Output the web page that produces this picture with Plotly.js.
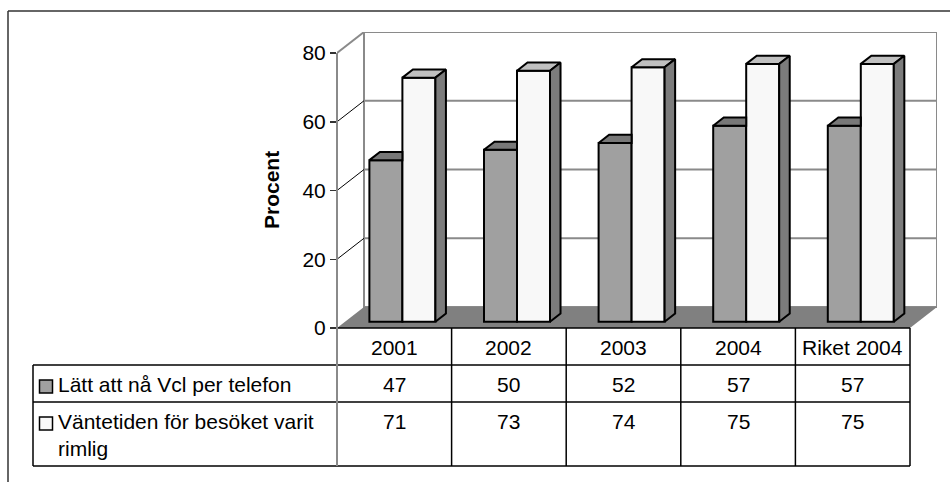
<!DOCTYPE html>
<html>
<head>
<meta charset="utf-8">
<script src="https://cdn.plot.ly/plotly-3.0.1.min.js"></script>
<style>
  html, body { margin: 0; padding: 0; background: #ffffff; }
  #chart { width: 950px; height: 482px; }
</style>
</head>
<body>
<div id="chart"></div>
<script>
// ---- data ----
const categories = ['2001', '2002', '2003', '2004', 'Riket 2004'];
const seriesNames = ['Lätt att nå Vcl per telefon', 'Väntetiden för besöket varit<br>rimlig'];
const phoneReach = [47, 50, 52, 57, 57];
const waitReasonable = [71, 73, 74, 75, 75];
const yTicks = [0, 20, 40, 60, 80];
const yAxisTitle = 'Procent';

// ---- page geometry (pixels) ----
const W = 950, H = 482;
const px = v => v / W;
const py = v => 1 - v / H;

const FRONT_LEFT = 337, FRONT_RIGHT = 910;        // front edge of the floor
const BACK_RIGHT = 937;                            // right edge of the back wall
const Y_ZERO = 328, Y_TOP = 32;                    // front zero line, top of back wall
const CAT_PX = (FRONT_RIGHT - FRONT_LEFT) / categories.length;
const UNIT_PX = (Y_ZERO - 53) / 80;                // px per percent on the front axis

const X_MIN = -0.5;
const X_MAX = X_MIN + (BACK_RIGHT - FRONT_LEFT) / CAT_PX;
const Y_MAX = (Y_ZERO - Y_TOP) / UNIT_PX;
const BACK_DX = X_MAX - (categories.length - 0.5);  // depth shift of the back wall (x units)
const BACK_DY = Y_MAX - 80;                          // depth shift of the back wall (y units)

// bars sit 30% into the depth and are 39% deep
const BAR_DX = 0.30 * BACK_DX, BAR_DY = 0.30 * BACK_DY;
const DEP_DX = 0.39 * BACK_DX, DEP_DY = 0.39 * BACK_DY;
const BAR_W = 33 / CAT_PX;

const FONT = 'Liberation Sans, Arial, sans-serif';
const styles = [
  { front: '#a0a0a0', top: '#787878', side: '#7c7c7c' },
  { front: '#f8f8f8', top: '#c0c0c0', side: '#7c7c7c' }
];
const seriesValues = [phoneReach, waitReasonable];

// ---- traces: front faces as bars, top/side faces as filled polygons ----
const traces = [];
seriesValues.forEach((vals, s) => {
  traces.push({
    type: 'bar',
    x: categories.map((c, i) => i + BAR_DX),
    y: vals,
    base: BAR_DY,
    width: BAR_W,
    offset: s === 0 ? -BAR_W : 0,
    marker: { color: styles[s].front, line: { color: '#000000', width: 2 } },
    hoverinfo: 'skip',
    name: seriesNames[s]
  });
});

function facePolys(s) {
  const tx = [], ty = [], sx = [], sy = [];
  seriesValues[s].forEach((v, i) => {
    const x0 = i + BAR_DX + (s === 0 ? -BAR_W : 0);
    const x1 = x0 + BAR_W;
    const b = BAR_DY, t = BAR_DY + v;
    const nextTaller = s === 0 && seriesValues[1][i] > v;
    if (nextTaller) {
      tx.push(x0, x1, x1, x0 + DEP_DX, x0, null);
      ty.push(t, t, t + DEP_DY, t + DEP_DY, t, null);
    } else {
      tx.push(x0, x1, x1 + DEP_DX, x0 + DEP_DX, x0, null);
      ty.push(t, t, t + DEP_DY, t + DEP_DY, t, null);
      sx.push(x1, x1, x1 + DEP_DX, x1 + DEP_DX, x1, null);
      sy.push(b, t, t + DEP_DY, b + DEP_DY, b, null);
    }
  });
  return { tx, ty, sx, sy };
}

[0, 1].forEach(s => {
  const f = facePolys(s);
  traces.push({
    type: 'scatter', mode: 'lines', x: f.tx, y: f.ty, fill: 'toself',
    fillcolor: styles[s].top, line: { color: '#000000', width: 2 },
    hoverinfo: 'skip', showlegend: false
  });
  if (f.sx.length) {
    traces.push({
      type: 'scatter', mode: 'lines', x: f.sx, y: f.sy, fill: 'toself',
      fillcolor: styles[s].side, line: { color: '#000000', width: 2 },
      hoverinfo: 'skip', showlegend: false
    });
  }
});

// ---- walls, floor, gridlines ----
const shapes = [];
const gridGray = '#8a8a8a';
shapes.push({
  type: 'rect', xref: 'x', yref: 'y', layer: 'below',
  x0: X_MIN + BACK_DX, x1: X_MAX, y0: BACK_DY, y1: Y_MAX,
  fillcolor: '#ffffff', line: { color: gridGray, width: 2 }
});
const fl = [[X_MIN, 0], [categories.length - 0.5, 0], [X_MAX, BACK_DY], [X_MIN + BACK_DX, BACK_DY]];
shapes.push({
  type: 'path', xref: 'x', yref: 'y', layer: 'below',
  path: 'M' + fl.map(p => p[0] + ',' + p[1]).join(' L') + ' Z',
  fillcolor: '#808080', line: { width: 0 }
});
yTicks.forEach(v => {
  if (v > 0 && v < 80) {
    shapes.push({
      type: 'line', xref: 'x', yref: 'y', layer: 'below',
      x0: X_MIN + BACK_DX, x1: X_MAX, y0: v + BACK_DY, y1: v + BACK_DY,
      line: { color: gridGray, width: 2 }
    });
  }
  if (v > 0) {
    shapes.push({
      type: 'line', xref: 'x', yref: 'y', layer: 'below',
      x0: X_MIN, x1: X_MIN + BACK_DX, y0: v, y1: v + BACK_DY,
      line: v === 80 ? { color: gridGray, width: 2 } : { color: '#000000', width: 1 }
    });
  }
});

// ---- data table under the plot ----
const lineBlack = { color: '#000000', width: 1.5 };
const ROW_TOP = Y_ZERO, ROW1 = 365, ROW2 = 402, ROW_BOT = 466, LABEL_LEFT = 33;
const hline = (x0, x1, y) => ({ type: 'line', xref: 'paper', yref: 'paper', x0: px(x0), x1: px(x1), y0: py(y), y1: py(y), line: lineBlack });
const vline = (x, y0, y1, ln) => ({ type: 'line', xref: 'paper', yref: 'paper', x0: px(x), x1: px(x), y0: py(y0), y1: py(y1), line: ln || lineBlack });

shapes.push(hline(FRONT_LEFT, FRONT_RIGHT, ROW_TOP));
shapes.push(hline(LABEL_LEFT, FRONT_RIGHT, ROW1));
shapes.push(hline(LABEL_LEFT, FRONT_RIGHT, ROW2));
shapes.push(hline(LABEL_LEFT, FRONT_RIGHT, ROW_BOT));
shapes.push(vline(LABEL_LEFT, ROW1, ROW_BOT));
categories.forEach((c, i) => shapes.push(vline(FRONT_LEFT + (i + 1) * CAT_PX, ROW_TOP, ROW_BOT)));
// front value axis, continuing as the table's left column border
shapes.push(vline(FRONT_LEFT, 53, ROW_BOT, { color: gridGray, width: 2 }));

// legend keys in the table
const keyBox = (y0, fill) => ({
  type: 'rect', xref: 'paper', yref: 'paper',
  x0: px(39.5), x1: px(52.5), y0: py(y0), y1: py(y0 + 13),
  fillcolor: fill, line: { color: '#000000', width: 1.5 }
});
shapes.push(keyBox(380, styles[0].front));
shapes.push(keyBox(417, styles[1].front));

// outer chart frame
const frame = { color: '#333333', width: 1.5 };
shapes.push({ type: 'line', xref: 'paper', yref: 'paper', x0: px(8), x1: 1, y0: py(11), y1: py(11), line: frame });
shapes.push({ type: 'line', xref: 'paper', yref: 'paper', x0: px(8), x1: px(8), y0: py(11), y1: 0, line: frame });

// ---- text ----
const txt = { family: FONT, size: 21, color: '#000000' };
const annotations = [];
const cellCenter = i => px(FRONT_LEFT + (i + 0.5) * CAT_PX);
categories.forEach((c, i) => {
  annotations.push({ xref: 'paper', yref: 'paper', x: cellCenter(i), y: py((ROW_TOP + ROW1) / 2 + 1), text: c, showarrow: false, font: txt, xanchor: 'center', yanchor: 'middle' });
  annotations.push({ xref: 'paper', yref: 'paper', x: cellCenter(i), y: py((ROW1 + ROW2) / 2 + 1), text: String(phoneReach[i]), showarrow: false, font: txt, xanchor: 'center', yanchor: 'middle' });
  annotations.push({ xref: 'paper', yref: 'paper', x: cellCenter(i), y: py(421), text: String(waitReasonable[i]), showarrow: false, font: txt, xanchor: 'center', yanchor: 'middle' });
});
annotations.push({ xref: 'paper', yref: 'paper', x: px(56), y: py(384), text: seriesNames[0], showarrow: false, font: txt, xanchor: 'left', yanchor: 'middle', align: 'left' });
annotations.push({ xref: 'paper', yref: 'paper', x: px(56), y: py(408), text: seriesNames[1], showarrow: false, font: txt, xanchor: 'left', yanchor: 'top', align: 'left' });
annotations.push({
  xref: 'paper', yref: 'paper', x: px(272), y: py(190), text: '<b>' + yAxisTitle + '</b>',
  showarrow: false, textangle: -90, font: { family: FONT, size: 21, color: '#000000' },
  xanchor: 'center', yanchor: 'middle'
});

const layout = {
  width: W, height: H,
  margin: { l: 0, r: 0, t: 0, b: 0 },
  paper_bgcolor: '#ffffff',
  plot_bgcolor: 'rgba(0,0,0,0)',
  showlegend: false,
  barmode: 'overlay',
  xaxis: {
    domain: [px(FRONT_LEFT), px(BACK_RIGHT)],
    range: [X_MIN, X_MAX],
    visible: false, fixedrange: true
  },
  yaxis: {
    domain: [py(Y_ZERO), py(Y_TOP)],
    range: [0, Y_MAX],
    tickvals: yTicks,
    ticktext: yTicks.map(String),
    ticks: 'outside', ticklen: 6, tickwidth: 1.5, tickcolor: '#333333',
    showgrid: false, zeroline: false, showline: false,
    tickfont: { family: FONT, size: 21, color: '#000000' },
    fixedrange: true
  },
  shapes: shapes,
  annotations: annotations
};

Plotly.newPlot('chart', traces, layout, { staticPlot: true, displayModeBar: false });
</script>
</body>
</html>
